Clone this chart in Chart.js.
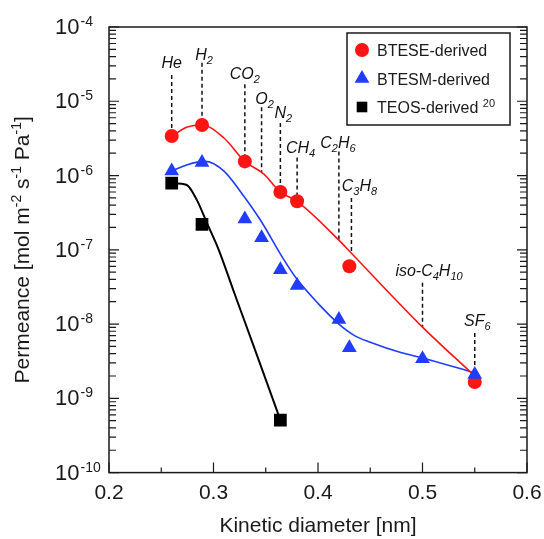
<!DOCTYPE html>
<html>
<head>
<meta charset="utf-8">
<script src="https://cdn.jsdelivr.net/npm/chart.js@4.4.0/dist/chart.umd.min.js"></script>
<style>
    html, body { margin: 0; padding: 0; background: #fff; }
</style>
</head>
<body>
<canvas id="myChart" width="544" height="539"></canvas>
<script>
// measured permeances (x: kinetic diameter [nm], y: permeance [mol m-2 s-1 Pa-1])
const bteseX = [0.26, 0.289, 0.33, 0.364, 0.38, 0.43, 0.55];
const bteseY = [3.4e-6, 4.8e-6, 1.55e-6, 6.0e-7, 4.5e-7, 6.0e-8, 1.66e-9];

const btesmX = [0.26, 0.289, 0.33, 0.346, 0.364, 0.38, 0.42, 0.43, 0.50, 0.55];
const btesmY = [1.15e-6, 1.5e-6, 2.6e-7, 1.45e-7, 5.4e-8, 3.3e-8, 1.15e-8, 4.8e-9, 3.4e-9, 2.1e-9];

const teosX = [0.26, 0.289, 0.364];
const teosY = [7.9e-7, 2.2e-7, 5.1e-10];

// fitted curves
const bteseFitX = [0.26, 0.275, 0.289, 0.31, 0.33, 0.348, 0.364, 0.38, 0.42, 0.432, 0.50, 0.55];
const bteseFitY = [3.4e-6, 4.5e-6, 4.8e-6, 3.2e-6, 1.55e-6, 1.05e-6, 6.0e-7, 4.5e-7, 1.35e-7, 9.0e-8, 9.1e-9, 2.0e-9];

const btesmFitX = [0.26, 0.275, 0.292, 0.31, 0.325, 0.345, 0.367, 0.38, 0.40, 0.42, 0.435, 0.45, 0.48, 0.50, 0.55];
const btesmFitY = [1.15e-6, 1.4e-6, 1.55e-6, 1.15e-6, 6.3e-7, 2.5e-7, 7.5e-8, 4.0e-8, 1.9e-8, 1.0e-8, 7.0e-9, 5.7e-9, 4.1e-9, 3.5e-9, 2.2e-9];

const teosFitX = [0.26, 0.274, 0.284, 0.294, 0.305, 0.32, 0.34, 0.364];
const teosFitY = [7.9e-7, 7.5e-7, 4.7e-7, 2.25e-7, 1.0e-7, 2.6e-8, 4.4e-9, 5.1e-10];

// gases: name (_n = subscript), kinetic diameter, dashed marker from top to end
const gasNames = ['He', 'H_2', 'CO_2', 'O_2', 'N_2', 'CH_4', 'C_2H_6', 'C_3H_8', 'iso-C_4H_10', 'SF_6'];
const gasDiameter = [0.26, 0.289, 0.33, 0.346, 0.364, 0.38, 0.42, 0.432, 0.50, 0.55];
const gasLineTop = [2.25e-5, 3.3e-5, 1.7e-5, 8.3e-6, 5.1e-6, 1.75e-6, 2.1e-6, 5.0e-7, 3.6e-8, 7.6e-9];
const gasLineEnd = [3.4e-6, 4.8e-6, 1.55e-6, 1.1e-6, 6.0e-7, 4.5e-7, 1.35e-7, 9.0e-8, 9.1e-9, 2.2e-9];

const yExponents = [-4, -5, -6, -7, -8, -9, -10];
const xTickValues = [0.2, 0.3, 0.4, 0.5, 0.6];

// label nudges (px) so the names sit like in the figure
const labelDx = [0, 2, 0, 3, 3, 3.5, -1, 8, 6.5, 2.5];
const labelGap = [7, 2.5, 5, 3.5, 5, 4, 3.5, 6.5, 6.5, 6.5];

const FONT = '"Liberation Sans", Arial, sans-serif';
const RED = '#ff1414';
const BLUE = '#1f3cff';
const BLACK = '#000';

const toXY = (xs, ys) => xs.map((x, i) => ({x: x, y: ys[i]}));

const dashedSets = gasDiameter.map((d, i) => ({
    type: 'line',
    data: [{x: d, y: gasLineTop[i]}, {x: d, y: gasLineEnd[i]}],
    borderColor: '#111',
    borderWidth: 1.5,
    borderDash: [4, 3],
    pointRadius: 0,
    order: 10
}));

function fitSet(xs, ys, color, width) {
    return {
        type: 'line',
        data: toXY(xs, ys),
        borderColor: color,
        borderWidth: width,
        pointRadius: 0,
        cubicInterpolationMode: 'monotone',
        order: 5
    };
}

function markerSet(label, xs, ys, color, style, radius, order) {
    return {
        type: 'scatter',
        label: label,
        data: toXY(xs, ys),
        showLine: false,
        pointStyle: style,
        pointRadius: radius,
        pointBackgroundColor: color,
        pointBorderColor: color,
        pointBorderWidth: 0,
        order: order
    };
}

function splitName(name) {
    return name.split(/(_\d+)/).filter(s => s.length).map(s =>
        s[0] === '_' ? {t: s.slice(1), sub: true} : {t: s, sub: false});
}

const decorations = {
    id: 'decorations',
    afterDatasetsDraw(chart) {
        const ctx = chart.ctx;
        const a = chart.chartArea;
        const xs = chart.scales.x;
        const ys = chart.scales.y;
        ctx.save();

        // frame
        ctx.strokeStyle = '#1a1a1a';
        ctx.lineWidth = 1.5;
        ctx.strokeRect(a.left, a.top, a.right - a.left, a.bottom - a.top);

        // inward ticks on left and right
        ctx.lineWidth = 1.2;
        ctx.beginPath();
        for (let k = -10; k <= -4; k++) {
            for (let m = 1; m <= 9; m++) {
                const v = m * Math.pow(10, k);
                if (v > 1.0001e-4) break;
                const py = ys.getPixelForValue(v);
                const len = m === 1 ? 10 : 7;
                ctx.moveTo(a.left, py); ctx.lineTo(a.left + len, py);
                ctx.moveTo(a.right, py); ctx.lineTo(a.right - len, py);
            }
        }
        // bottom ticks
        for (let i = 0; i < xTickValues.length; i++) {
            const px = xs.getPixelForValue(xTickValues[i]);
            ctx.moveTo(px, a.bottom); ctx.lineTo(px, a.bottom - 10);
            if (i < xTickValues.length - 1) {
                const pm = xs.getPixelForValue((xTickValues[i] + xTickValues[i + 1]) / 2);
                ctx.moveTo(pm, a.bottom); ctx.lineTo(pm, a.bottom - 5);
            }
        }
        ctx.stroke();

        // y tick labels 10^n
        ctx.fillStyle = '#1a1a1a';
        ctx.textBaseline = 'alphabetic';
        ctx.textAlign = 'left';
        yExponents.forEach(e => {
            const py = ys.getPixelForValue(Math.pow(10, e));
            ctx.font = '22px ' + FONT;
            ctx.fillText('10', 55, py + 7);
            const w = ctx.measureText('10').width;
            ctx.font = '14px ' + FONT;
            ctx.fillText(String(e), 55 + w + 1, py - 1);
        });

        // y title with superscripts
        const parts = [
            {t: 'Permeance [mol m', sup: false}, {t: '-2', sup: true},
            {t: ' s', sup: false}, {t: '-1', sup: true},
            {t: ' Pa', sup: false}, {t: '-1', sup: true}, {t: ']', sup: false}
        ];
        const widthOf = p => { ctx.font = (p.sup ? '14px ' : '21px ') + FONT; return ctx.measureText(p.t).width; };
        let total = 0;
        parts.forEach(p => total += widthOf(p));
        ctx.translate(29, (a.top + a.bottom) / 2);
        ctx.rotate(-Math.PI / 2);
        let cx = -total / 2;
        parts.forEach(p => {
            const w = widthOf(p);
            ctx.fillText(p.t, cx, p.sup ? -8 : 0);
            cx += w;
        });
        ctx.setTransform(1, 0, 0, 1, 0, 0);

        // gas names above the dashed lines
        ctx.fillStyle = '#111';
        gasNames.forEach((name, i) => {
            const segs = splitName(name);
            let w = 0;
            segs.forEach(s => {
                ctx.font = 'italic ' + (s.sub ? '11px ' : '16px ') + FONT;
                s.w = ctx.measureText(s.t).width;
                w += s.w;
            });
            let x = xs.getPixelForValue(gasDiameter[i]) + labelDx[i] - w / 2;
            const base = ys.getPixelForValue(gasLineTop[i]) - labelGap[i];
            segs.forEach(s => {
                ctx.font = 'italic ' + (s.sub ? '11px ' : '16px ') + FONT;
                ctx.fillText(s.t, x, s.sub ? base + 4 : base);
                x += s.w;
            });
        });

        // legend box
        const lx = a.left + 238, ly = a.top + 6, lw = 163, lh = 92;
        ctx.fillStyle = '#fff';
        ctx.fillRect(lx, ly, lw, lh);
        ctx.strokeStyle = '#1a1a1a';
        ctx.lineWidth = 1.5;
        ctx.strokeRect(lx, ly, lw, lh);
        const legendSets = chart.data.datasets.filter(d => d.label);
        legendSets.forEach((d, i) => {
            const cy = ly + 17 + i * 28.5;
            ctx.fillStyle = d.pointBackgroundColor;
            ctx.strokeStyle = d.pointBackgroundColor;
            const r = d.pointStyle === 'rect' ? 7.5 : d.pointRadius;
            Chart.helpers.drawPoint(ctx, {pointStyle: d.pointStyle, radius: r, borderWidth: 0}, lx + 15, cy);
            ctx.fillStyle = '#1a1a1a';
            ctx.font = '16px ' + FONT;
            ctx.fillText(d.label, lx + 30, cy + 6);
            if (d.label.indexOf('TEOS') === 0) {
                const w = ctx.measureText(d.label + ' ').width;
                ctx.font = '11px ' + FONT;
                ctx.fillText('20', lx + 30 + w, cy);
            }
        });
        ctx.restore();
    }
};

const ctx = document.getElementById('myChart').getContext('2d');
const myChart = new Chart(ctx, {
    type: 'scatter',
    data: {
        datasets: dashedSets.concat([
            fitSet(bteseFitX, bteseFitY, RED, 1.6),
            fitSet(btesmFitX, btesmFitY, BLUE, 1.6),
            fitSet(teosFitX, teosFitY, BLACK, 2),
            markerSet('BTESE-derived', bteseX, bteseY, RED, 'circle', 7, 2),
            markerSet('BTESM-derived', btesmX, btesmY, BLUE, 'triangle', 8.5, 1),
            markerSet('TEOS-derived', teosX, teosY, BLACK, 'rect', 9, 3)
        ])
    },
    options: {
        responsive: false,
        animation: false,
        devicePixelRatio: 1,
        layout: {
            padding: {left: 109, top: 27, right: 17, bottom: 0}
        },
        plugins: {
            legend: {display: false},
            tooltip: {enabled: false}
        },
        scales: {
            x: {
                type: 'linear',
                min: 0.2,
                max: 0.6,
                grid: {display: false, drawTicks: false},
                border: {display: false},
                afterFit: function (scale) {
                    scale.paddingLeft = 0;
                    scale.paddingRight = 0;
                },
                ticks: {
                    stepSize: 0.1,
                    padding: 8,
                    color: '#1a1a1a',
                    font: {family: FONT, size: 21}
                },
                title: {
                    display: true,
                    text: 'Kinetic diameter [nm]',
                    color: '#1a1a1a',
                    font: {family: FONT, size: 21},
                    padding: {top: 0, bottom: 0}
                }
            },
            y: {
                type: 'logarithmic',
                min: 1e-10,
                max: 1e-4,
                grid: {display: false, drawTicks: false},
                border: {display: false},
                ticks: {display: false}
            }
        }
    },
    plugins: [decorations]
});
</script>
</body>
</html>
